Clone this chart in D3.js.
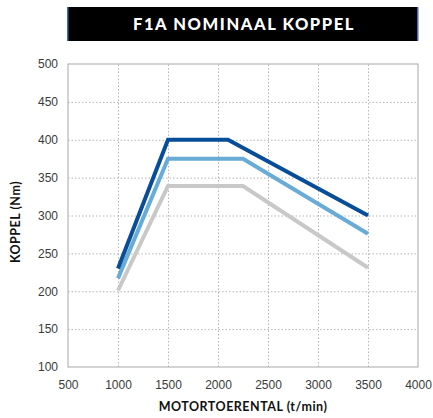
<!DOCTYPE html>
<html>
<head>
<meta charset="utf-8">
<script src="https://cdn.jsdelivr.net/npm/d3@7"></script>
<style>
  body { margin: 0; background: #fff; }
  svg { display: block; font-family: Lato, "Open Sans", sans-serif; }
  .grid line { stroke: #b5b5b5; stroke-dasharray: 1.5 2; }
  .grid path { display: none; }
  .tick text { fill: #3a3a3a; font-size: 12px; }
</style>
</head>
<body>
<svg id="chart" width="433" height="418"></svg>
<script>
// rpm values and torque curves (Nm)
const rpm = [1000, 1500, 2100, 3500];
const rpmMid = [1000, 1500, 2250, 3500];
const koppelHoog = [230, 400, 400, 300];
const koppelMidden = [217, 375, 375, 276];
const koppelLaag = [201, 339, 339, 231];
const xTicks = [500, 1000, 1500, 2000, 2500, 3000, 3500, 4000];
const yTicks = [100, 150, 200, 250, 300, 350, 400, 450, 500];

const series = [
    { x: rpmMid, y: koppelLaag, color: '#c8c8c8' },
    { x: rpmMid, y: koppelMidden, color: '#67abd6' },
    { x: rpm, y: koppelHoog, color: '#074d97' }
];

const plotLeft = 68, plotRight = 418, plotTop = 64, plotBottom = 367;
const svg = d3.select('#chart');

const xScale = d3.scaleLinear().domain([500, 4000]).range([plotLeft, plotRight]);
const yScale = d3.scaleLinear().domain([100, 500]).range([plotBottom, plotTop]);

// title bar
svg.append('rect')
    .attr('x', 67).attr('y', 7).attr('width', 351).attr('height', 34)
    .attr('fill', '#000');
svg.append('rect').attr('x', 67).attr('y', 7).attr('width', 1.5).attr('height', 34).attr('fill', '#3a6fb0');
svg.append('rect').attr('x', 417).attr('y', 7).attr('width', 1.5).attr('height', 34).attr('fill', '#3a6fb0');
svg.append('text')
    .attr('x', 244).attr('y', 30)
    .attr('text-anchor', 'middle')
    .attr('fill', '#fff')
    .attr('font-weight', 900)
    .attr('font-size', 16.5)
    .attr('letter-spacing', 1.6)
    .text('F1A NOMINAAL KOPPEL');

// grid
svg.append('g')
    .attr('class', 'grid')
    .attr('transform', `translate(0, ${plotBottom})`)
    .call(d3.axisBottom(xScale).tickValues(xTicks.slice(1, -1)).tickSize(-(plotBottom - plotTop)).tickFormat(''));
svg.append('g')
    .attr('class', 'grid')
    .attr('transform', `translate(${plotLeft}, 0)`)
    .call(d3.axisLeft(yScale).tickValues(yTicks.slice(1, -1)).tickSize(-(plotRight - plotLeft)).tickFormat(''));

// frame
svg.append('rect')
    .attr('x', plotLeft).attr('y', plotTop)
    .attr('width', plotRight - plotLeft).attr('height', plotBottom - plotTop)
    .attr('fill', 'none').attr('stroke', '#a8a8a8').attr('stroke-width', 1);

// tick labels
const xAxis = svg.append('g')
    .attr('transform', `translate(0, ${plotBottom})`)
    .call(d3.axisBottom(xScale).tickValues(xTicks).tickSize(0).tickPadding(13).tickFormat(d3.format('d')));
xAxis.select('.domain').remove();
const yAxis = svg.append('g')
    .attr('transform', `translate(${plotLeft}, 0)`)
    .call(d3.axisLeft(yScale).tickValues(yTicks).tickSize(0).tickPadding(10).tickFormat(d3.format('d')));
yAxis.select('.domain').remove();

// lines
const line = d3.line();
series.forEach(function(s) {
    svg.append('path')
        .attr('d', line(s.x.map((v, i) => [xScale(v), yScale(s.y[i])])))
        .attr('fill', 'none')
        .attr('stroke', s.color)
        .attr('stroke-width', 4)
        .attr('stroke-linejoin', 'miter');
});

// axis titles
svg.append('text')
    .attr('x', 243).attr('y', 411)
    .attr('text-anchor', 'middle')
    .attr('font-weight', 'bold')
    .attr('font-size', 12.5)
    .attr('letter-spacing', 0.5)
    .attr('fill', '#111')
    .text('MOTORTOERENTAL (t/min)');
svg.append('text')
    .attr('transform', 'translate(20, 222) rotate(-90)')
    .attr('text-anchor', 'middle')
    .attr('font-weight', 'bold')
    .attr('font-size', 12.5)
    .attr('letter-spacing', 0.5)
    .attr('fill', '#111')
    .text('KOPPEL (Nm)');
</script>
</body>
</html>
